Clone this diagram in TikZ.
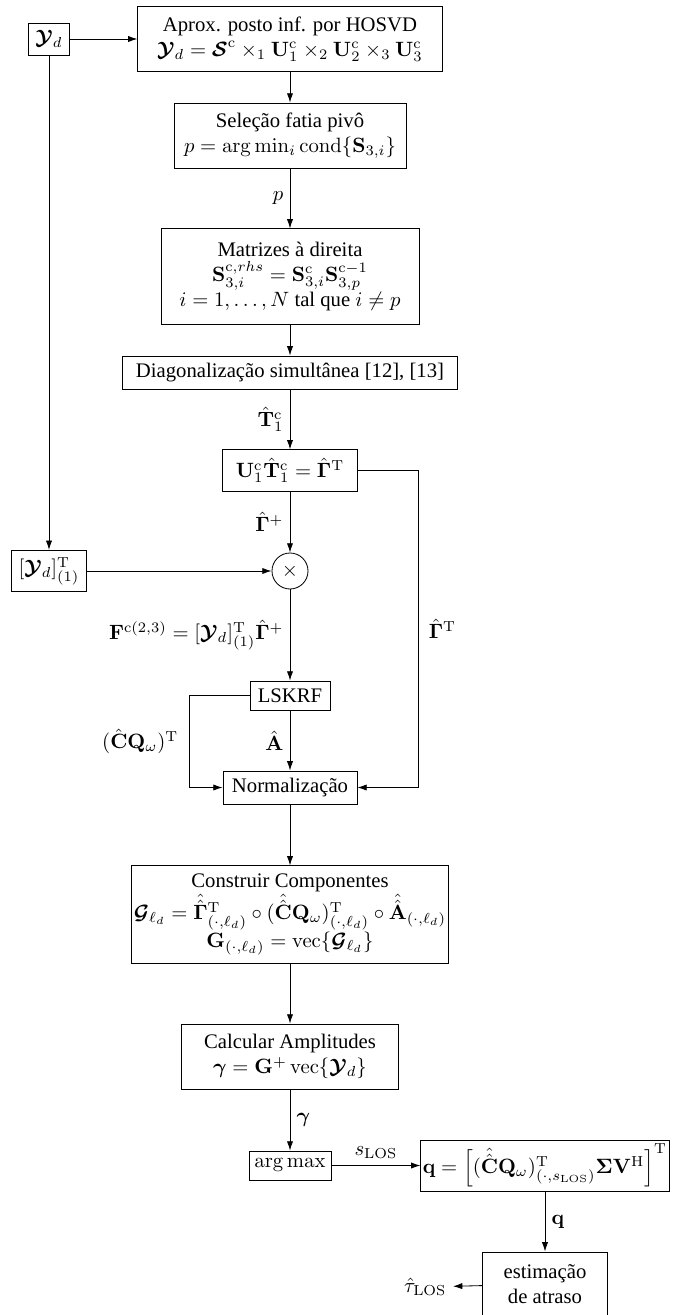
\documentclass[tikz,border=0pt]{standalone}
\usepackage[no-math]{fontspec}
\setmainfont{Liberation Serif}
\usepackage{amsmath}
\usepackage{bm}
\usetikzlibrary{arrows.meta}

\tikzset{
  block/.style={draw, align=center, inner sep=1pt},
  lbl/.style={inner sep=3pt},
}

\begin{document}
\begin{tikzpicture}[x=0.4831pt, y=-0.4831pt, >={Latex[length=4.5pt,width=3pt]}]
  \useasboundingbox (0,0) rectangle (681,1315);

  % columns
  \def \xLeft  {49}
  \def \xMain  {290}
  \def \xRight {418}
  \def \xQ     {545}
  \def \xBend  {189}

  % Input tensor and HOSVD
  \node[block, minimum width=20pt, minimum height=15.5pt] (yd) at (\xLeft, 39)
    {$\bm{\mathcal{Y}}_d$};
  \node[block, minimum width=147pt, minimum height=31.4pt] (hosvd) at (\xMain, 39)
    {Aprox. posto inf. por HOSVD\\
     $\bm{\mathcal{Y}}_d = \bm{\mathcal{S}}^{\mathrm{c}} \times_1 \mathbf{U}_1^{\mathrm{c}}
      \times_2 \mathbf{U}_2^{\mathrm{c}} \times_3 \mathbf{U}_3^{\mathrm{c}}$};

  % Pivot slice
  \node[block, minimum width=112pt, minimum height=31.4pt] (selecao) at (\xMain, 135.5)
    {Seleção fatia pivô\\
     $p = \arg\min_i \operatorname{cond}\{\mathbf{S}_{3,i}\}$};

  % Right hand side matrices
  \node[block, minimum width=124.6pt, minimum height=46pt] (matrizes) at (\xMain, 276.5)
    {Matrizes à direita\\
     $\mathbf{S}_{3,i}^{\mathrm{c},rhs} = \mathbf{S}_{3,i}^{\mathrm{c}}\mathbf{S}_{3,p}^{\mathrm{c}-1}$\\
     $i = 1,\ldots,N$ tal que $i \neq p$};

  \node[block, minimum width=162pt, minimum height=16pt] (diag) at (\xMain, 372.5)
    {Diagonalização simultânea [12], [13]};

  \node[block, minimum width=65pt, minimum height=20pt] (ugamma) at (\xMain, 470.5)
    {$\mathbf{U}_1^{\mathrm{c}}\hat{\mathbf{T}}_1^{\mathrm{c}} = \hat{\mathbf{\Gamma}}^{\mathrm{T}}$};

  % Product
  \node[block, minimum width=36pt, minimum height=20pt] (ydone) at (\xLeft, 571)
    {$[\bm{\mathcal{Y}}_d]_{(1)}^{\mathrm{T}}$};
  \node[draw, circle, minimum size=17.4pt, inner sep=0pt] (mult) at (\xMain, 571) {$\times$};

  \node[block, minimum width=38.6pt, minimum height=14pt] (lskrf) at (\xMain, 695.5) {LSKRF};
  \node[block, minimum width=64.7pt, minimum height=16pt] (norm) at (\xMain, 787.5) {Normalização};

  % Components and amplitudes
  \node[block, minimum width=152pt, minimum height=47pt] (construir) at (\xMain, 914.5)
    {Construir Componentes\\
     $\bm{\mathcal{G}}_{\ell_d} = \hat{\hat{\mathbf{\Gamma}}}^{\mathrm{T}}_{(\cdot,\ell_d)} \circ
      (\hat{\hat{\mathbf{C}}}\mathbf{Q}_{\omega})^{\mathrm{T}}_{(\cdot,\ell_d)} \circ
      \hat{\hat{\mathbf{A}}}_{(\cdot,\ell_d)}$\\
     $\mathbf{G}_{(\cdot,\ell_d)} = \operatorname{vec}\{\bm{\mathcal{G}}_{\ell_d}\}$};
  \node[block, minimum width=105pt, minimum height=31.4pt] (calcular) at (\xMain, 1056.5)
    {Calcular Amplitudes\\
     $\bm{\gamma} = \mathbf{G}^{+}\operatorname{vec}\{\bm{\mathcal{Y}}_d\}$};

  \node[block, minimum width=39.6pt, minimum height=14pt] (argmax) at (\xMain, 1165.5) {$\arg\max$};
  \node[block, minimum width=118pt, minimum height=24.6pt] (qbox) at (\xQ, 1165.5)
    {$\mathbf{q} = \left[(\hat{\hat{\mathbf{C}}}\mathbf{Q}_{\omega})^{\mathrm{T}}_{(\cdot,s_{\mathrm{LOS}})}
      \mathbf{\Sigma}\mathbf{V}^{\mathrm{H}}\right]^{\mathrm{T}}$};
  \node[block, minimum width=60pt, minimum height=31pt] (estim) at (\xQ, 1284)
    {estimação\\de atraso};
  \node[lbl, anchor=east] (tau) at (453, 1287) {$\hat{\tau}_{\mathrm{LOS}}$};

  % bends
  \coordinate (rbend) at (\xRight, 470.5);
  \coordinate (lbend) at (\xBend, 695.5);

  % LINES
  \draw[->] (yd) -- (hosvd);
  \draw[->] (yd) -- (ydone);
  \draw[->] (hosvd) -- (selecao);
  \draw[->] (selecao) -- (matrizes) node[lbl, midway, left] {$p$};
  \draw[->] (matrizes) -- (diag);
  \draw[->] (diag) -- (ugamma) node[lbl, midway, left] {$\hat{\mathbf{T}}_1^{\mathrm{c}}$};
  \draw[->] (ugamma) -- (mult) node[lbl, midway, left] {$\hat{\mathbf{\Gamma}}^{+}$};
  \draw[->] (ydone) -- (mult);
  \draw[->] (mult) -- (lskrf)
    node[lbl, midway, left] {$\mathbf{F}^{\mathrm{c}(2,3)} = [\bm{\mathcal{Y}}_d]_{(1)}^{\mathrm{T}}\hat{\mathbf{\Gamma}}^{+}$};
  \draw[->] (lskrf) -- (norm) node[lbl, midway, left] {$\hat{\mathbf{A}}$};
  \draw[->] (lskrf.west) -- (lbend) |- (norm.west)
    node[lbl, pos=0.25, left, xshift=-2pt] {$(\hat{\mathbf{C}}\mathbf{Q}_{\omega})^{\mathrm{T}}$};
  \draw[->] (ugamma.east) -- (rbend) |- (norm.east)
    node[lbl, pos=0.25, right, xshift=2pt] {$\hat{\mathbf{\Gamma}}^{\mathrm{T}}$};
  \draw[->] (norm) -- (construir);
  \draw[->] (construir) -- (calcular);
  \draw[->] (calcular) -- (argmax) node[lbl, midway, right] {$\bm{\gamma}$};
  \draw[->] (argmax) -- (qbox) node[lbl, midway, above] {$s_{\mathrm{LOS}}$};
  \draw[->] (qbox) -- (estim) node[lbl, midway, right] {$\mathbf{q}$};
  \draw[->] (estim) -- (tau);

\end{tikzpicture}
\end{document}
